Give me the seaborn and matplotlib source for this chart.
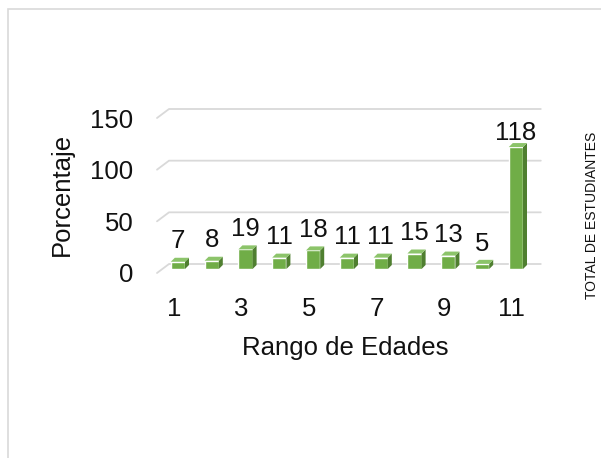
import matplotlib.pyplot as plt
import seaborn as sns
from matplotlib.patches import Polygon, Rectangle
from matplotlib.transforms import ScaledTranslation

# datos: total de estudiantes por rango de edades
rangos = ['1', '2', '3', '4', '5', '6', '7', '8', '9', '10', '11']
estudiantes = [7, 8, 19, 11, 18, 11, 11, 15, 13, 5, 118]
ticks_y = [0, 50, 100, 150]
etiquetas_x = ['1', '3', '5', '7', '9', '11']

verde = '#70AD47'
verde_lado = '#4F7F30'
verde_tapa = '#8CC46A'
gris = '#D9D9D9'
tam = 18.5

sns.set_theme(style="white")
plt.rcParams['font.family'] = ['Liberation Sans', 'DejaVu Sans']

fig = plt.figure(figsize=(6.01, 4.58), dpi=100)
# marco del grafico
fig.patches.append(Rectangle((8 / 601, -0.2), 1.2, 1.2 - 9 / 458, transform=fig.transFigure,
                             fill=False, edgecolor=gris, linewidth=1.2))

ax = fig.add_axes([157 / 601, 1 - 273 / 458, 371.8 / 601, 155 / 458])
sns.barplot(x=rangos, y=estudiantes, order=rangos, color=verde, width=0.42,
            saturation=1, ax=ax, zorder=3)
ax.set_xlim(-0.5, 10.5)
ax.set_ylim(0, 150)

# pixeles -> unidades de datos
px_x = 1 / 33.8
px_y = 150 / 155

# lineas de cuadricula con perspectiva
gdx, gdy = 12 * px_x, 9 * px_y
for v in ticks_y:
    ax.plot([-0.5, -0.5 + gdx, 10.5 + gdx], [v, v + gdy, v + gdy], color=gris,
            lw=1.3, clip_on=False, zorder=1)

# efecto 3D en las barras
desplazar = ax.transData + ScaledTranslation(4 / 100, 4 / 100, fig.dpi_scale_trans)
bdx, bdy = 4 * px_x, 4 * px_y
for barra in list(ax.patches):
    x0 = barra.get_x()
    w = barra.get_width()
    h = barra.get_height()
    barra.set_transform(desplazar)
    barra.set_clip_on(False)
    lado = Polygon([(x0 + w, 0), (x0 + w + bdx, bdy), (x0 + w + bdx, h + bdy), (x0 + w, h)],
                   closed=True, facecolor=verde_lado, edgecolor='none',
                   transform=desplazar, zorder=3, clip_on=False)
    tapa = Polygon([(x0, h), (x0 + bdx, h + bdy), (x0 + w + bdx, h + bdy), (x0 + w, h)],
                   closed=True, facecolor=verde_tapa, edgecolor='none',
                   transform=desplazar, zorder=3, clip_on=False)
    ax.add_patch(lado)
    ax.add_patch(tapa)

# etiquetas de valor
for i, v in enumerate(estudiantes):
    dy = 17.5 if v < 100 else 13
    ax.annotate(str(v), (i, v), xytext=(3, dy), textcoords='offset points',
                ha='center', va='center', fontsize=tam, color='#111111')

ax.set_xticks(range(0, 11, 2))
ax.set_xticklabels(etiquetas_x)
ax.set_yticks(ticks_y)
ax.tick_params(axis='x', length=0, pad=17, labelsize=tam, labelcolor='#111111')
ax.tick_params(axis='y', length=0, pad=17, labelsize=tam, labelcolor='#111111')
ax.set_xlabel('')
ax.set_ylabel('')
sns.despine(ax=ax, left=True, bottom=True)

fig.text(345 / 601, 1 - 348 / 458, 'Rango de Edades', ha='center', va='center',
         fontsize=tam, color='#111111')
fig.text(62 / 601, 1 - 194 / 458, 'Porcentaje', ha='center', va='center',
         rotation=90, fontsize=tam, color='#111111')
fig.text(592 / 601, 1 - 215 / 458, 'TOTAL DE ESTUDIANTES', ha='center', va='center',
         rotation=90, fontsize=10, color='#111111')

fig.savefig('out.png', dpi=100, facecolor='white')
